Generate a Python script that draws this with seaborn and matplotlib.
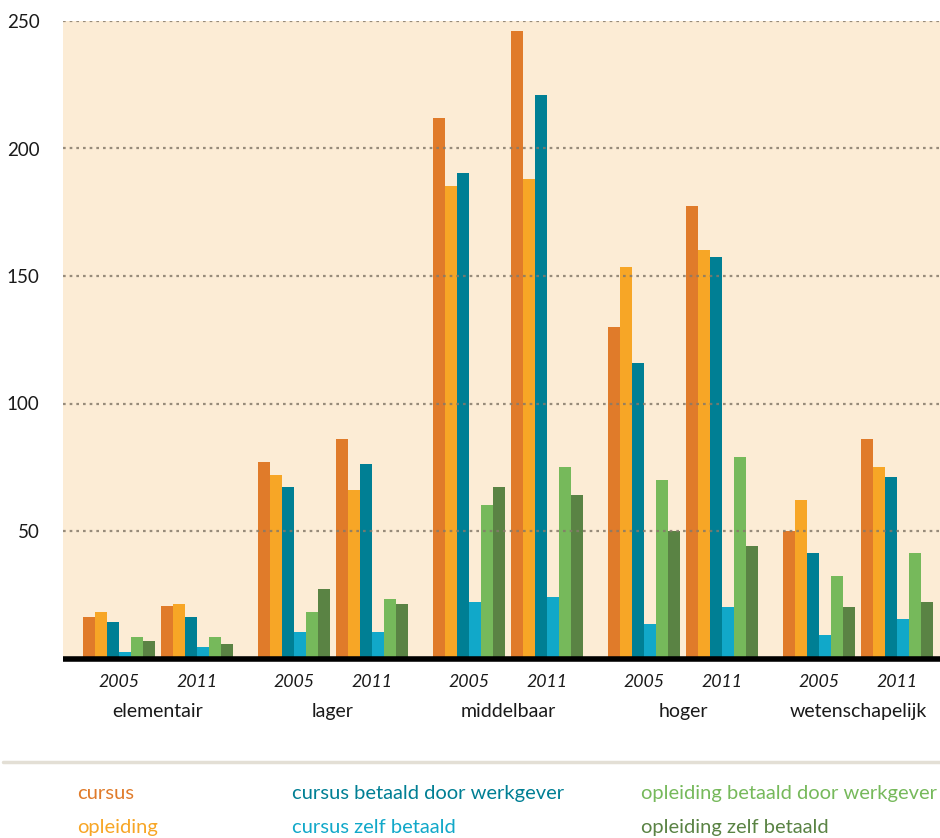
import matplotlib
matplotlib.use("Agg")
import matplotlib.pyplot as plt
import matplotlib.transforms as mtransforms
import numpy as np
import pandas as pd
import seaborn as sns

# onderwijsniveaus en jaren
levels = ["elementair", "lager", "middelbaar", "hoger", "wetenschapelijk"]
years = ["2005", "2011"]
series = ["cursus", "opleiding", "cursus betaald door werkgever",
          "cursus zelf betaald", "opleiding betaald door werkgever",
          "opleiding zelf betaald"]

# waarden per reeks, volgorde: elementair 2005, 2011, lager 2005, 2011, ...
cursus = [16.4, 20.4, 76.9, 85.9, 212, 246, 130, 177.6, 50, 85.9]
opleiding = [18.4, 21.5, 71.8, 66, 185.4, 188.1, 153.7, 160.3, 62.1, 75]
cursus_werkgever = [14.5, 16.4, 67.1, 76.2, 190.5, 221, 115.7, 157.6, 41.3, 71.1]
cursus_zelf = [2.7, 4.7, 10.4, 10.4, 22.1, 24.1, 13.5, 20.2, 9.2, 15.5]
opleiding_werkgever = [8.6, 8.6, 18.2, 23.3, 60.1, 75, 69.9, 78.9, 32.3, 41.3]
opleiding_zelf = [6.7, 5.5, 27.2, 21.3, 67.1, 64, 49.9, 44, 20.2, 22.1]

colors = ["#E07B2A", "#F7A626", "#007F94", "#11A8C9", "#76B95B", "#5A8344"]
bg = "#FCECD5"

all_values = [cursus, opleiding, cursus_werkgever, cursus_zelf,
              opleiding_werkgever, opleiding_zelf]

# posities: 1 eenheid = 1 balk
first = 1.67
level_step = 14.58
year_step = 6.5

rows = []
for s, (name, vals) in enumerate(zip(series, all_values)):
    for g in range(len(levels) * len(years)):
        k, j = divmod(g, 2)
        pos = first + level_step * k + year_step * j + s + 0.5
        rows.append({"pos": pos, "value": vals[g], "serie": name})
df = pd.DataFrame(rows)

sns.set_style("white")
plt.rcParams["font.family"] = ["Lato", "DejaVu Sans"]

fig = plt.figure(figsize=(9.4, 8.38), dpi=100)
ax = fig.add_axes([63 / 940, 1 - 658.5 / 838, 877 / 940, 637.5 / 838])
ax.set_facecolor(bg)

sns.barplot(data=df, x="pos", y="value", hue="serie", hue_order=series,
            palette=colors, saturation=1, native_scale=True, dodge=False,
            width=1, errorbar=None, legend=False, linewidth=0, ax=ax)

ax.set_xlim(0, 877 / 12)
ax.set_ylim(0, 250)
for v in [50, 100, 150, 200, 250]:
    ax.axhline(v, color="#857a6a", lw=1.6, ls=(0, (1.2, 1.8)), zorder=3, alpha=0.85)
ax.axhline(0, color="black", lw=4, zorder=4, clip_on=False, solid_capstyle="butt")

for sp in ax.spines.values():
    sp.set_visible(False)
ax.set_xticks([])
ax.set_yticks([50, 100, 150, 200, 250])
ax.tick_params(axis="y", length=0, pad=17, labelsize=13.5, labelcolor="#1a1a1a")
ax.set_xlabel("")
ax.set_ylabel("")

trans = mtransforms.blended_transform_factory(ax.transData, fig.transFigure)
for k, lvl in enumerate(levels):
    for j, yr in enumerate(years):
        cx = first + level_step * k + year_step * j + 3
        ax.text(cx, 1 - 682 / 838, yr, transform=trans, ha="center", va="center",
                fontsize=12.8, style="italic", color="#1a1a1a")
    cx = first + level_step * k + (year_step + 6) / 2
    ax.text(cx, 1 - 711 / 838, lvl, transform=trans, ha="center", va="center",
            fontsize=14, color="#1a1a1a")

# scheidingslijn
fig.add_artist(plt.Line2D([3 / 940, 1], [1 - 762 / 838] * 2, color="#E3DFD5", lw=2.5))

# legenda als gekleurde tekst
legend_x = [77, 77, 292, 292, 641, 641]
legend_y = [793, 827, 793, 827, 793, 827]
for name, c, lx, ly in zip(series, colors, legend_x, legend_y):
    fig.text(lx / 940, 1 - ly / 838, name, color=c, fontsize=14.5,
             va="center", ha="left")

fig.savefig("out.png", dpi=100, facecolor="white")
